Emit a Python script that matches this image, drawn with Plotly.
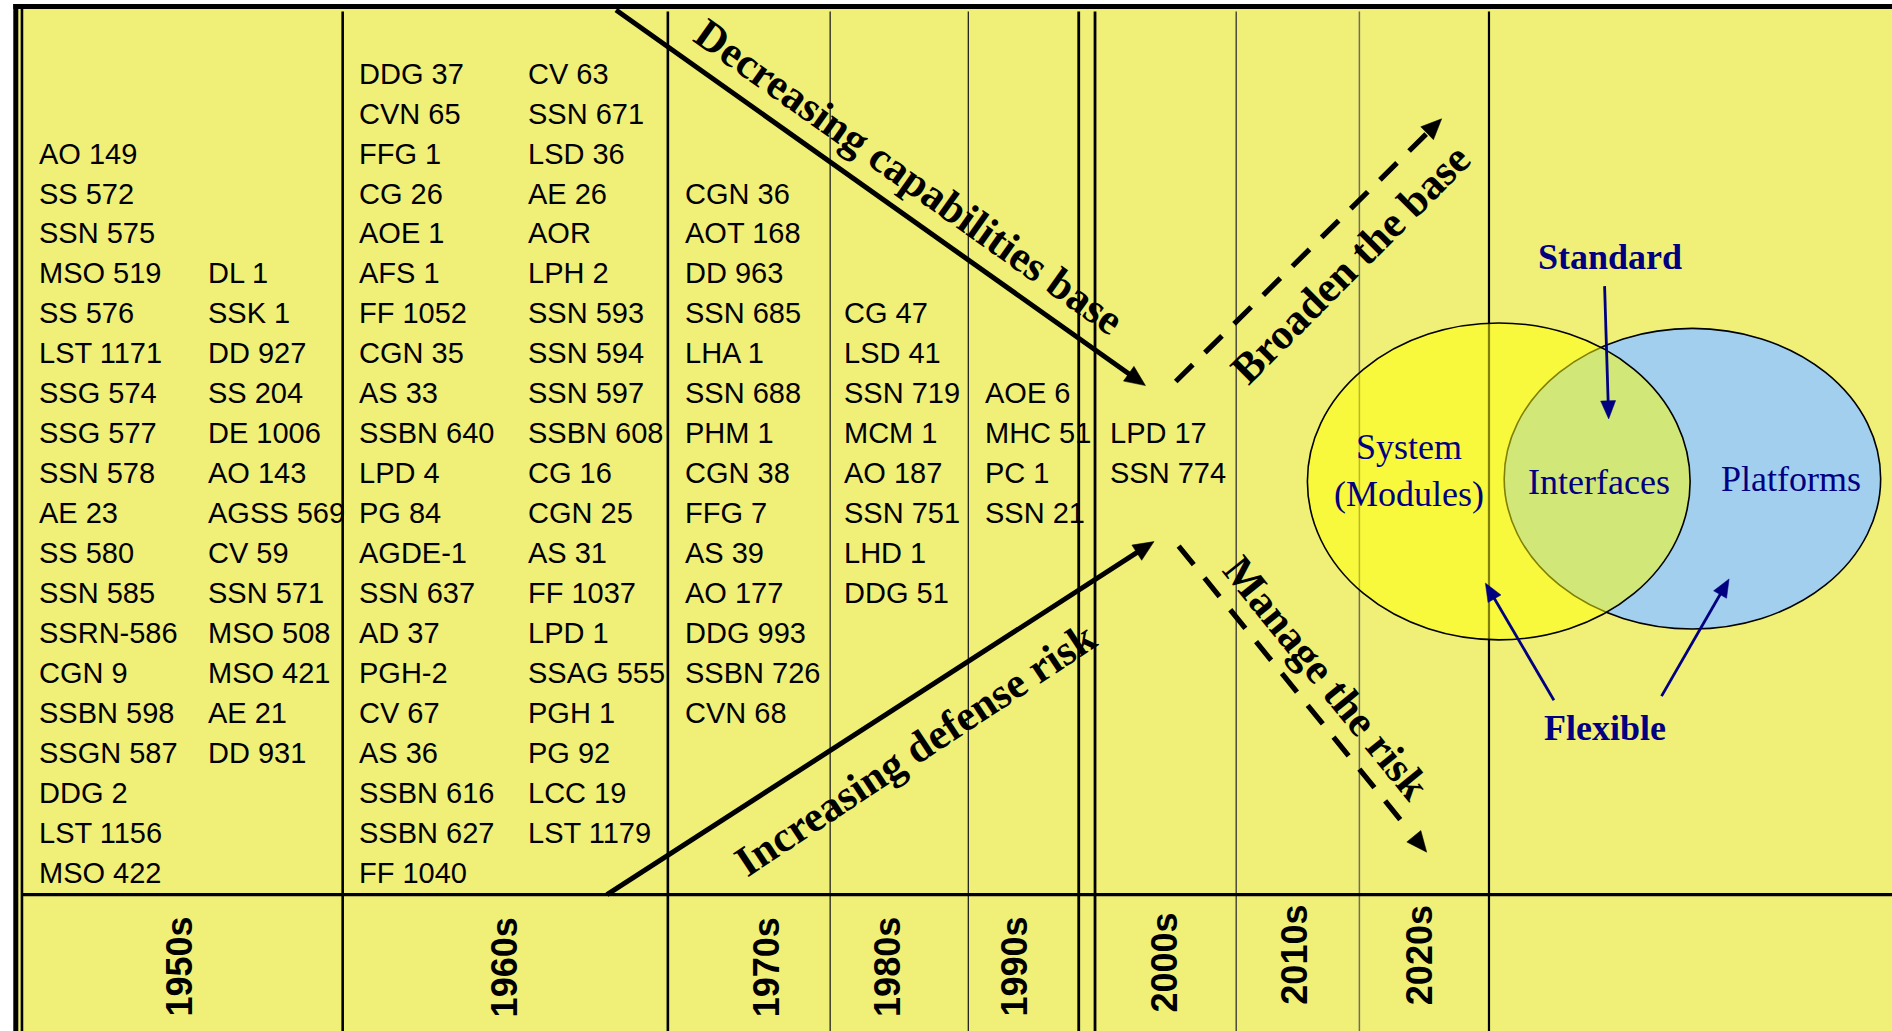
import numpy as np
import plotly.graph_objects as go

# ---------------- data ----------------
decades = ["1950s", "1960s", "1970s", "1980s", "1990s", "2000s", "2010s", "2020s"]

ships_1950s_a = ["AO 149", "SS 572", "SSN 575", "MSO 519", "SS 576", "LST 1171", "SSG 574",
                 "SSG 577", "SSN 578", "AE 23", "SS 580", "SSN 585", "SSRN-586", "CGN 9",
                 "SSBN 598", "SSGN 587", "DDG 2", "LST 1156", "MSO 422"]
ships_1950s_b = ["DL 1", "SSK 1", "DD 927", "SS 204", "DE 1006", "AO 143", "AGSS 569", "CV 59",
                 "SSN 571", "MSO 508", "MSO 421", "AE 21", "DD 931"]
ships_1960s_a = ["DDG 37", "CVN 65", "FFG 1", "CG 26", "AOE 1", "AFS 1", "FF 1052", "CGN 35",
                 "AS 33", "SSBN 640", "LPD 4", "PG 84", "AGDE-1", "SSN 637", "AD 37", "PGH-2",
                 "CV 67", "AS 36", "SSBN 616", "SSBN 627", "FF 1040"]
ships_1960s_b = ["CV 63", "SSN 671", "LSD 36", "AE 26", "AOR", "LPH 2", "SSN 593", "SSN 594",
                 "SSN 597", "SSBN 608", "CG 16", "CGN 25", "AS 31", "FF 1037", "LPD 1",
                 "SSAG 555", "PGH 1", "PG 92", "LCC 19", "LST 1179"]
ships_1970s = ["CGN 36", "AOT 168", "DD 963", "SSN 685", "LHA 1", "SSN 688", "PHM 1", "CGN 38",
               "FFG 7", "AS 39", "AO 177", "DDG 993", "SSBN 726", "CVN 68"]
ships_1980s = ["CG 47", "LSD 41", "SSN 719", "MCM 1", "AO 187", "SSN 751", "LHD 1", "DDG 51"]
ships_1990s = ["AOE 6", "MHC 51", "PC 1", "SSN 21"]
ships_2000s = ["LPD 17", "SSN 774"]

trend_labels = ["Decreasing capabilities base", "Increasing defense risk",
                "Broaden the base", "Manage the risk"]
venn_labels = ["System<br>(Modules)", "Interfaces", "Platforms"]
callout_labels = ["Standard", "Flexible"]

# ---------------- layout constants (diagram units: 1568 x 854) ----------------
W_U, H_U = 1568, 854
FIG_W, FIG_H = 1892, 1031
BG = "#F0F078"
NAVY = "#000080"
SANS = "Arial, Liberation Sans, sans-serif"
SERIF = "Times New Roman, Liberation Serif, serif"

ROW0, ROWSTEP = 61.0, 33.1
# (list, column x, first row)
columns = [
    (ships_1950s_a, 31, 2), (ships_1950s_b, 171, 5),
    (ships_1960s_a, 296, 0), (ships_1960s_b, 436, 0),
    (ships_1970s, 566, 3), (ships_1980s, 698, 6),
    (ships_1990s, 815, 8), (ships_2000s, 918, 9),
]
decade_x = [148, 418, 635, 735, 840, 965, 1073, 1177]
decade_y = [801, 801, 801, 801, 801, 797, 791, 791]

shapes = []
annotations = []


def line(x0, y0, x1, y1, width, color="black", dash=None):
    d = dict(type="line", xref="x", yref="y", x0=x0, y0=y0, x1=x1, y1=y1,
             line=dict(color=color, width=width))
    if dash:
        d["line"]["dash"] = dash
    shapes.append(d)


def head(tip, tail, L, Wd, color="black"):
    tip = np.array(tip, float)
    tail = np.array(tail, float)
    d = tip - tail
    d /= np.hypot(*d)
    p = np.array([-d[1], d[0]])
    base = tip - L * d
    a = base + Wd * p
    b = base - Wd * p
    path = f"M {tip[0]:.2f},{tip[1]:.2f} L {a[0]:.2f},{a[1]:.2f} L {b[0]:.2f},{b[1]:.2f} Z"
    shapes.append(dict(type="path", xref="x", yref="y", path=path, fillcolor=color,
                       line=dict(color=color, width=0.5)))
    return base


def arrow(tail, tip, width, L, Wd, color="black", dash=None, gap=0.0):
    tip_a = np.array(tip, float)
    tail_a = np.array(tail, float)
    d = tip_a - tail_a
    d /= np.hypot(*d)
    base = tip_a - L * d
    end = base - gap * d + (0 if gap else 1.5) * d
    line(tail_a[0], tail_a[1], end[0], end[1], width, color, dash)
    head(tip, tail, L, Wd, color)


# background panel
shapes.append(dict(type="rect", xref="x", yref="y", x0=11, y0=3.3, x1=W_U + 2, y1=H_U + 2,
                   fillcolor=BG, line=dict(width=0)))

# grid lines (decade separators)
for xv, w, c in [(284, 2.6, "black"), (553.5, 2.6, "black"), (688, 1.3, "#222222"),
                 (802.5, 1.3, "#222222"), (894, 2.8, "black"), (907.5, 2.8, "black"),
                 (1024.5, 1.3, "#333333"), (1126.6, 1.5, "#6f6f60"), (1234, 2.2, "black")]:
    line(xv, 9.6, xv, H_U + 2, w, c)

# horizontal separator
line(18, 741, W_U + 2, 741, 3.2)
# outer borders
line(13.1, 3.3, 13.1, H_U + 2, 5.0)
line(18.2, 3.3, 18.2, H_U + 2, 2.6)
line(11, 5.4, W_U + 2, 5.4, 5.0)

# Venn diagram
shapes.append(dict(type="circle", xref="x", yref="y", x0=1246.6, x1=1558.6, y0=272.0, y1=521.0,
                   fillcolor="#A3CFEF", line=dict(color="black", width=1.6)))
shapes.append(dict(type="circle", xref="x", yref="y", x0=1083.5, x1=1400.7, y0=267.5, y1=530.0,
                   fillcolor="rgba(255,255,0,0.5)", line=dict(color="black", width=1.6)))

# trend arrows
arrow((510.5, 8.3), (949.3, 319.4), 5.0, 17, 7.5)
arrow((503, 741), (956.4, 448.6), 5.0, 17, 7.5)
arrow((974.4, 316.0), (1194.8, 98.4), 5.2, 17, 7.5, dash="24px,17px", gap=0.0)
arrow((976.8, 452.3), (1182.4, 705.9), 5.2, 17, 7.5, dash="24px,17px", gap=12.0)

# navy callout arrows
arrow((1329.8, 237.0), (1333.2, 347.0), 2.8, 15, 6.2, color=NAVY)
arrow((1287.8, 580.0), (1231.0, 483.0), 2.8, 15, 6.2, color=NAVY)
arrow((1377.0, 576.6), (1433.0, 479.5), 2.8, 15, 6.2, color=NAVY)

# ship name texts
for names, xc, r0 in columns:
    for i, nm in enumerate(names):
        annotations.append(dict(x=xc, y=ROW0 + ROWSTEP * (r0 + i), xref="x", yref="y",
                                text=nm, showarrow=False, xanchor="left", yanchor="middle",
                                font=dict(family=SANS, size=29, color="black")))

# decade labels
for dl, xc, yc in zip(decades, decade_x, decade_y):
    annotations.append(dict(x=xc, y=yc, xref="x", yref="y", text=dl, showarrow=False,
                            textangle=-90, xanchor="center", yanchor="middle",
                            font=dict(family=SANS, size=36, color="black", weight="bold")))

# trend labels
trend_pos = [(753.5, 146.0, 35.3), (758.0, 620.6, -33.5), (1119.5, 218.5, -45.0), (1099.0, 561.5, 51.0)]
for lab, (xc, yc, ang) in zip(trend_labels, trend_pos):
    annotations.append(dict(x=xc, y=yc, xref="x", yref="y", text=lab, showarrow=False,
                            textangle=ang, xanchor="center", yanchor="middle",
                            font=dict(family=SERIF, size=43, color="black", weight="bold")))

# venn labels
venn_pos = [(1167.5, 390.0), (1325.0, 399.0), (1484.0, 397.0)]
for lab, (xc, yc) in zip(venn_labels, venn_pos):
    annotations.append(dict(x=xc, y=yc, xref="x", yref="y", text=lab, showarrow=False,
                            xanchor="center", yanchor="middle",
                            font=dict(family=SERIF, size=36, color=NAVY)))
callout_pos = [(1334.0, 213.0), (1330.0, 603.0)]
for lab, (xc, yc) in zip(callout_labels, callout_pos):
    annotations.append(dict(x=xc, y=yc, xref="x", yref="y", text=lab, showarrow=False,
                            xanchor="center", yanchor="middle",
                            font=dict(family=SERIF, size=36, color=NAVY, weight="bold")))

fig = go.Figure()
fig.update_layout(
    width=FIG_W, height=FIG_H, margin=dict(l=0, r=0, t=0, b=0),
    paper_bgcolor="white", plot_bgcolor="white",
    xaxis=dict(range=[0, W_U], visible=False, fixedrange=True),
    yaxis=dict(range=[H_U, 0], visible=False, fixedrange=True),
    shapes=shapes, annotations=annotations, showlegend=False,
)
fig.write_html("out.html", config={"displayModeBar": False},
               post_script="document.body.style.margin='0';document.body.style.overflow='hidden';")
